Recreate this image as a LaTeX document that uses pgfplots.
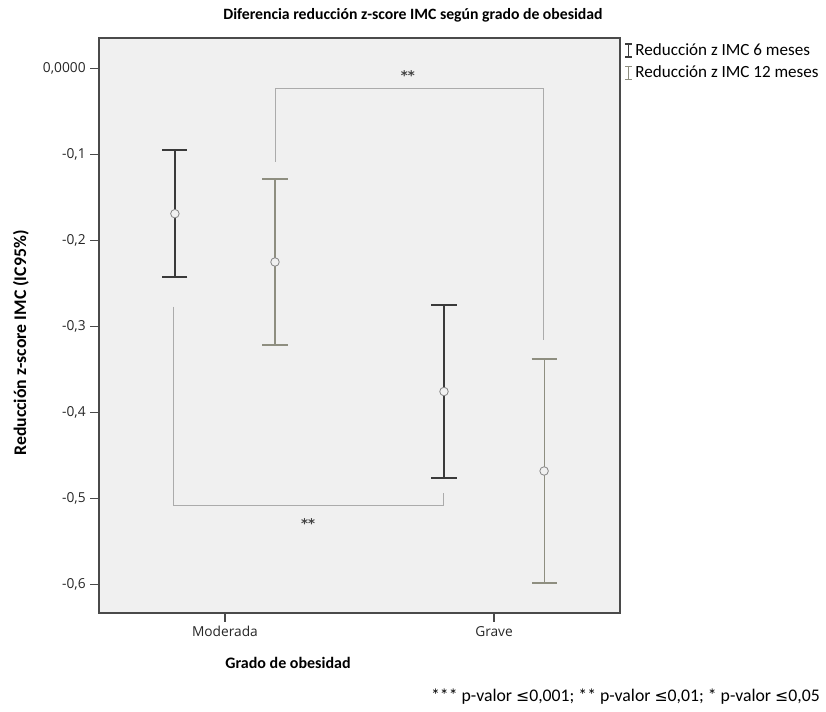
\documentclass[border=0pt]{standalone}
\usepackage{pgfplots}
\pgfplotsset{compat=1.18}
\usepackage{fontspec}
\setmainfont{Carlito}
\newfontfamily\tickfont{Open Sans}
\newfontfamily\symfont{DejaVu Sans}

\definecolor{bgpanel}{HTML}{F0F0F0}
\definecolor{frame}{HTML}{4A4A4A}
\definecolor{barsix}{HTML}{3A3A3A}
\definecolor{bartwelve}{HTML}{8E8E80}
\definecolor{meanc}{HTML}{858585}
\definecolor{bracket}{HTML}{ABABAB}

\pgfplotsset{
  ierror legend/.style={
    legend image code/.code={
      \draw[##1] (0.16cm,-4.8pt) -- (0.16cm,4.8pt);
      \draw[##1] (0.16cm-2.6pt,-4.8pt) -- (0.16cm+2.6pt,-4.8pt);
      \draw[##1] (0.16cm-2.6pt,4.8pt) -- (0.16cm+2.6pt,4.8pt);}},
}

\begin{document}
\begin{tikzpicture}[x=0.75pt,y=0.75pt]
\path[use as bounding box] (0,0) rectangle (826,712);

\begin{axis}[
  at={(74.25pt,74.25pt)}, anchor=south west,
  scale only axis,
  width=390.75pt, height=431.25pt,
  xmin=-0.468, xmax=1.468,
  ymin=-0.6331, ymax=0.0355,
  axis background/.style={fill=bgpanel},
  axis line style={frame, line width=0.9pt},
  xtick={0,1},
  xticklabels={Moderada, Grave},
  ytick={0,-0.1,-0.2,-0.3,-0.4,-0.5,-0.6},
  yticklabels={{0,0000},{-0,1},{-0,2},{-0,3},{-0,4},{-0,5},{-0,6}},
  tick align=outside,
  major tick length=6.5pt,
  tick style={frame, line width=0.9pt},
  xtick pos=bottom, ytick pos=left,
  tick label style={font=\tickfont\fontsize{10.3}{12}\selectfont, text=black!85},
  legend style={at={(1,1)}, anchor=north west, xshift=2pt, yshift=-1pt,
    draw=none, fill=none, font=\fontsize{12.8}{14}\selectfont,
    row sep=2.5pt, inner sep=1pt},
  legend cell align=left,
  clip=false,
]
% significance brackets
\addplot[bracket, line width=0.8pt, forget plot] coordinates {
  (0.187,-0.1084) (0.187,-0.0230) (1.183,-0.0230) (1.183,-0.3157)
};
\addplot[bracket, line width=0.8pt, forget plot] coordinates {
  (-0.192,-0.2770) (-0.192,-0.5084) (0.8115,-0.5084) (0.8115,-0.4933)
};

% 6 months
\addplot[forget plot, only marks, mark=*, mark size=3.2pt,
  mark options={draw=meanc, fill=bgpanel, line width=0.6pt},
  error bars/.cd, y dir=both, y explicit,
  error bar style={barsix, line width=1.4pt},
  error mark options={rotate=90, barsix, line width=1.4pt, mark size=9.4pt}]
  coordinates {
  (-0.186,-0.1688) +- (0,0.0740)
  (0.814,-0.3756) +- (0,0.1006)
};
% 12 months
\addplot[forget plot, only marks, mark=*, mark size=3.2pt,
  mark options={draw=meanc, fill=bgpanel, line width=0.6pt},
  error bars/.cd, y dir=both, y explicit,
  error bar style={bartwelve, line width=0.9pt},
  error mark options={rotate=90, bartwelve, line width=0.9pt, mark size=9.4pt}]
  coordinates {
  (0.186,-0.2250) +- (0,0.0965)
  (1.186,-0.4680) +- (0,0.1302)
};

\addlegendimage{barsix, line width=1.2pt, ierror legend}
\addlegendentry{Reducción z IMC 6 meses}
\addlegendimage{bartwelve, line width=0.9pt, ierror legend}
\addlegendentry{Reducción z IMC 12 meses}

\node[font=\symfont\bfseries\fontsize{10}{12}\selectfont, text=black!75] at (axis cs:0.680,-0.0080) {**};
\node[font=\symfont\bfseries\fontsize{10}{12}\selectfont, text=black!75] at (axis cs:0.309,-0.5286) {**};
\end{axis}

\node[font=\bfseries\fontsize{11.8}{13}\selectfont] at (413,697) {Diferencia reducción z-score IMC según grado de obesidad};
\node[font=\bfseries\fontsize{13.3}{15}\selectfont, rotate=90] at (21,369) {Reducción z-score IMC (IC95\%)};
\node[font=\bfseries\fontsize{12}{14}\selectfont] at (288,49) {Grado de obesidad};
\node[anchor=east, font=\fontsize{13.3}{15}\selectfont, inner sep=0pt] at (820,15)
  {*** p-valor {\symfont\fontsize{11.8}{13}\selectfont ≤}0,001; ** p-valor {\symfont\fontsize{11.8}{13}\selectfont ≤}0,01; * p-valor {\symfont\fontsize{11.8}{13}\selectfont ≤}0,05};
\end{tikzpicture}
\end{document}
